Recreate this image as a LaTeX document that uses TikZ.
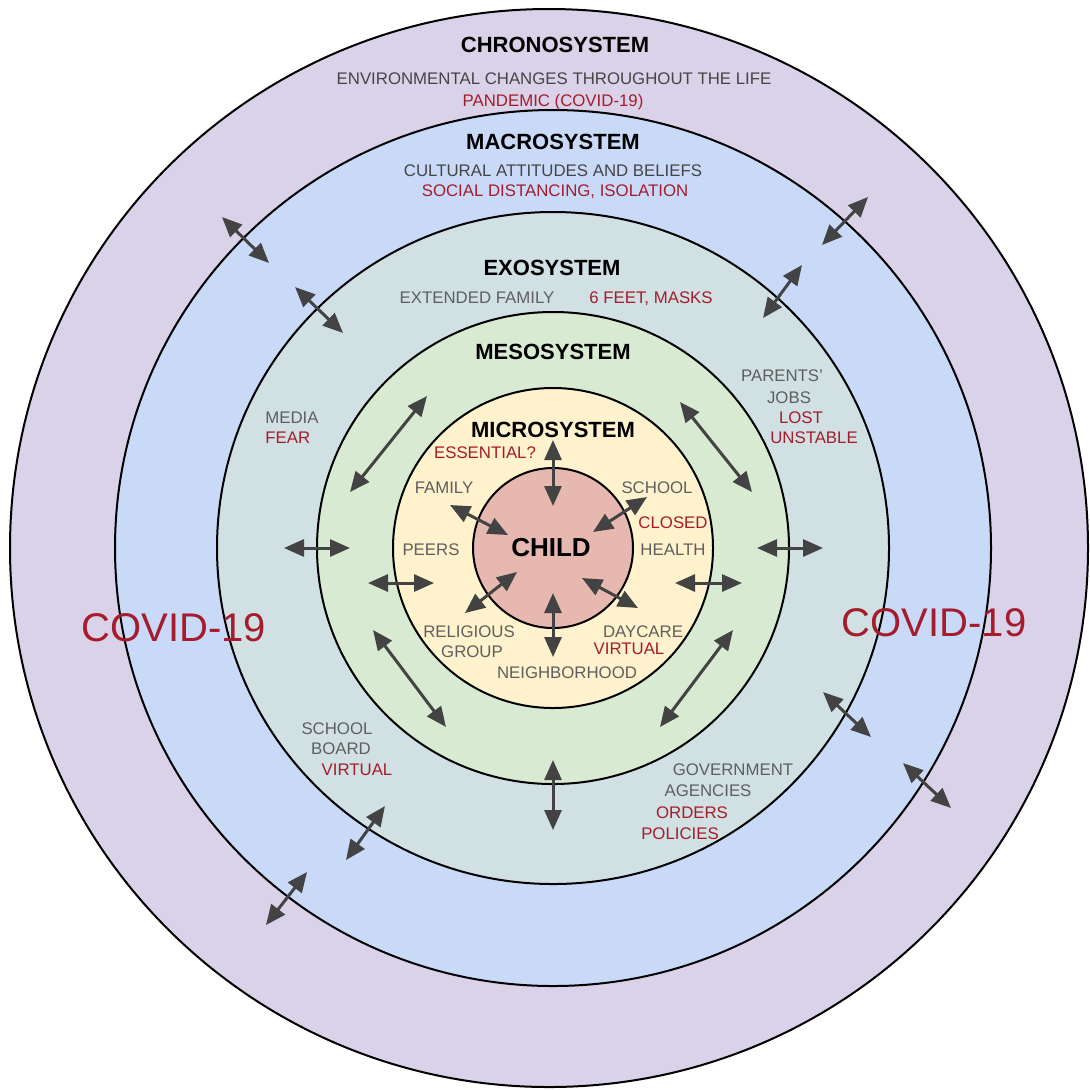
\documentclass[tikz,border=0pt]{standalone}
\usepackage{fontspec}
\setmainfont{Liberation Sans}
\usepackage{tikz}
\usetikzlibrary{arrows.meta}
\definecolor{chronofill}{HTML}{D9D2E9}
\definecolor{macrofill}{HTML}{C9DAF8}
\definecolor{exofill}{HTML}{D0E0E3}
\definecolor{mesofill}{HTML}{D9EAD3}
\definecolor{microfill}{HTML}{FFF2CC}
\definecolor{childfill}{HTML}{E6B8AF}
\definecolor{labelgrey}{HTML}{5F5F5F}
\definecolor{descgrey}{HTML}{454545}
\definecolor{effectred}{HTML}{A51C2C}
\definecolor{arrowgrey}{HTML}{434343}

\begin{document}
\begin{tikzpicture}[x=0.5pt,y=-0.5pt,
  ring/.style={draw=black, line width=1pt},
  sysname/.style={font=\fontsize{11}{13}\selectfont\bfseries, inner sep=0pt, text height=7.9pt, text depth=0pt},
  childname/.style={font=\fontsize{13}{15}\selectfont\bfseries, inner sep=0pt, text height=9.3pt, text depth=0pt},
  plain/.style={font=\fontsize{8.4}{10}\selectfont, text=labelgrey, inner sep=0pt, text height=6pt, text depth=0pt},
  effect/.style={plain, text=effectred},
  bigtag/.style={font=\fontsize{20}{24}\selectfont, text=effectred, inner sep=0pt, text height=14.3pt, text depth=0pt},
  twoway/.style={draw=arrowgrey, line width=1.5pt, {Triangle[length=10pt,width=8.5pt]}-{Triangle[length=10pt,width=8.5pt]}}]
\useasboundingbox (0,0) rectangle (1090,1089);
\coordinate (mid) at (553,548);
\filldraw[ring, fill=chronofill] (549,548) circle[radius=539];
\filldraw[ring, fill=macrofill] (mid) circle[radius=438];
\filldraw[ring, fill=exofill] (mid) circle[radius=336];
\filldraw[ring, fill=mesofill] (mid) circle[radius=236];
\filldraw[ring, fill=microfill] (mid) circle[radius=160];
\filldraw[ring, fill=childfill] (mid) circle[radius=80];

\foreach \n/\ax/\ay/\bx/\by in {
  up/553/440/553/506, fam/450/505/508/535, sch/647/497/593/532,
  rel/465/613/517/572, down/553/593/553/657, day/582/578/638/608,
  mil/368/583/434/583, mir/675/583/742/583,
  mul/350/492/427/396, mur/680/402/752/492, mll/373/630/446/727, mlr/733/630/660/727,
  exl/284/548/350/548, exr/757/548/823/548, exd/553/760/553/830,
  eul/295/287/343/333, eur/802/265/763/318, ell/385/806/346/860, elr/823/692/871/737,
  aul/222/217/269/263, aur/868/197/822/245, all/307/872/266/925, alr/903/763/951/808}
{
  \coordinate (\n a) at (\ax,\ay);
  \coordinate (\n b) at (\bx,\by);
  \draw[twoway] (\n a) -- (\n b);
}

\node[sysname] (chrono) at (555,45) {CHRONOSYSTEM};
\node[plain, text=descgrey] (chronodesc) at (554,78) {ENVIRONMENTAL CHANGES THROUGHOUT THE LIFE};
\node[effect] (pandemic) at (553,100) {PANDEMIC (COVID-19)};
\node[sysname] (macro) at (553,142) {MACROSYSTEM};
\node[plain, text=descgrey] (macrodesc) at (553,170) {CULTURAL ATTITUDES AND BELIEFS};
\node[effect] (distancing) at (555,190) {SOCIAL DISTANCING, ISOLATION};
\node[sysname] (exo) at (552,268) {EXOSYSTEM};
\node[plain] (extfamily) at (477,297) {EXTENDED FAMILY};
\node[effect] (masks) at (651,297) {6 FEET, MASKS};
\node[sysname] (meso) at (553,352) {MESOSYSTEM};
\node[plain, anchor=west] (media) at (265,417) {MEDIA};
\node[effect, anchor=west] (fear) at (265,437) {FEAR};
\node[plain] (parents) at (782,375) {PARENTS’};
\node[plain] (jobs) at (789,397) {JOBS};
\node[effect] (lost) at (801,417) {LOST};
\node[effect] (unstable) at (814,437) {UNSTABLE};
\node[sysname] (micro) at (553,430) {MICROSYSTEM};
\node[effect] (essential) at (485,452) {ESSENTIAL?};
\node[plain] (family) at (444,487) {FAMILY};
\node[plain] (school) at (657,487) {SCHOOL};
\node[effect] (closed) at (673,522) {CLOSED};
\node[plain] (peers) at (431,549) {PEERS};
\node[plain] (health) at (673,549) {HEALTH};
\node[childname] (child) at (551,547) {CHILD};
\node[plain] (religious) at (469,631) {RELIGIOUS};
\node[plain] (group) at (472,651) {GROUP};
\node[plain] (daycare) at (643,631) {DAYCARE};
\node[effect] (virtualcare) at (629,648) {VIRTUAL};
\node[plain] (neighborhood) at (567,672) {NEIGHBORHOOD};
\node[plain] (schoolb) at (337,728) {SCHOOL};
\node[plain] (board) at (341,748) {BOARD};
\node[effect] (virtualboard) at (357,769) {VIRTUAL};
\node[plain] (government) at (733,769) {GOVERNMENT};
\node[plain] (agencies) at (708,790) {AGENCIES};
\node[effect] (orders) at (692,812) {ORDERS};
\node[effect] (policies) at (680,833) {POLICIES};
\node[bigtag] (covidleft) at (174,627) {COVID-19};
\node[bigtag] (covidright) at (934,622) {COVID-19};
\end{tikzpicture}
\end{document}
